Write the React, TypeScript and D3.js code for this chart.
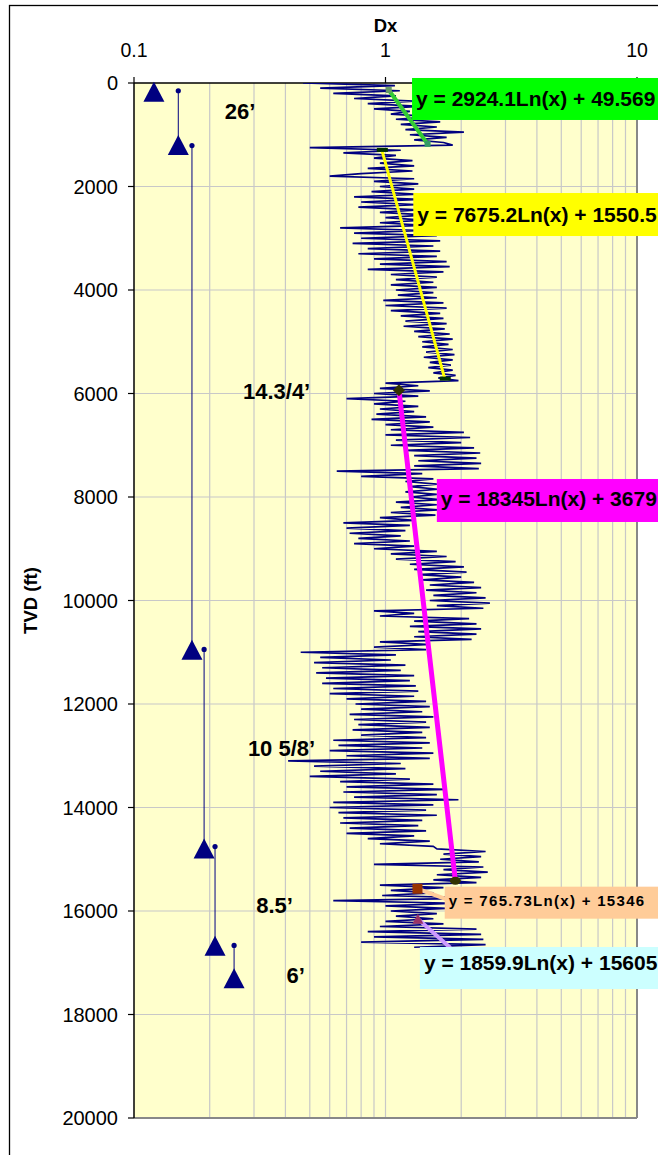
import * as d3 from "d3";

// Dx log, one reading every 50 ft starting at 0 ft
const logStepFt = 50;
const dxLog = [
  0.47, 1.09, 0.55, 1.14, 0.62, 1.1, // 0
  0.75, 1.3, 0.85, 1.37, 0.9, 1.25, // 300
  1.05, 1.55, 1.1, 1.65, 1.15, 1.6, // 600
  1.2, 2.05, 1.25, 1.75, 1.3, 1.7, // 900
  1.85, 0.5, 1.15, 0.68, 1.1, 0.9, // 1200
  1.28, 0.95, 1.3, 0.85, 1.28, 0.8, // 1500
  0.6, 1.3, 0.9, 1.35, 0.95, 1.3, // 1800
  0.88, 1.35, 0.75, 1.37, 0.8, 1.32, // 2100
  0.78, 1.35, 0.95, 1.45, 1.0, 1.42, // 2400
  0.95, 1.45, 0.66, 1.4, 0.75, 1.6, // 2700
  0.8, 1.65, 0.74, 1.55, 0.85, 1.65, // 3000
  0.78, 1.6, 0.9, 1.75, 0.95, 1.8, // 3300
  0.85, 1.7, 1.05, 1.6, 1.1, 1.55, // 3600
  1.05, 1.6, 1.1, 1.55, 1.12, 1.6, // 3900
  0.98, 1.7, 1.0, 1.75, 1.05, 1.65, // 4200
  1.15, 1.7, 1.2, 1.75, 1.18, 1.72, // 4500
  1.3, 1.8, 1.35, 1.85, 1.4, 1.78, // 4800
  1.4, 1.85, 1.45, 1.88, 1.42, 1.85, // 5100
  1.5, 1.82, 1.48, 1.85, 1.55, 1.9, // 5400
  1.62, 1.95, 1.0, 1.35, 0.95, 1.5, // 5700
  0.9, 1.35, 0.7, 1.2, 0.9, 1.35, // 6000
  0.95, 1.3, 0.92, 1.45, 0.88, 1.5, // 6300
  1.0, 1.55, 1.05, 2.05, 1.0, 2.17, // 6600
  1.1, 2.0, 1.05, 2.25, 1.2, 2.38, // 6900
  1.3, 2.3, 1.35, 2.4, 1.3, 2.35, // 7200
  0.64, 1.4, 0.8, 1.55, 1.2, 1.6, // 7500
  1.25, 1.62, 1.2, 1.6, 1.25, 1.65, // 7800
  1.1, 1.6, 1.15, 1.62, 1.05, 1.58, // 8100
  0.95, 1.3, 0.68, 1.25, 0.7, 1.2, // 8400
  0.72, 1.15, 0.78, 1.25, 0.75, 1.3, // 8700
  0.9, 1.6, 1.05, 1.75, 1.1, 1.9, // 9000
  1.25, 2.05, 1.3, 2.1, 1.35, 2.0, // 9300
  1.4, 2.25, 1.5, 2.4, 1.45, 2.3, // 9600
  1.55, 2.5, 1.5, 2.6, 1.6, 2.45, // 9900
  0.9, 1.3, 0.95, 2.15, 1.3, 2.3, // 10200
  1.25, 2.4, 1.35, 2.3, 1.3, 2.2, // 10500
  0.95, 1.5, 0.9, 1.45, 0.46, 1.1, // 10800
  0.55, 1.05, 0.52, 1.2, 0.56, 1.15, // 11100
  0.53, 1.3, 0.58, 1.25, 0.56, 1.32, // 11400
  0.62, 1.35, 0.6, 1.3, 0.7, 1.45, // 11700
  0.76, 1.5, 0.8, 1.4, 0.72, 1.55, // 12000
  0.75, 1.45, 0.78, 1.5, 0.74, 1.4, // 12300
  0.8, 1.45, 0.62, 1.5, 0.65, 1.4, // 12600
  0.6, 1.55, 0.7, 1.5, 0.41, 1.15, // 12900
  0.52, 1.2, 0.55, 1.1, 0.5, 1.25, // 13200
  0.66, 1.55, 0.7, 1.75, 0.68, 1.6, // 13500
  0.75, 1.95, 0.62, 1.55, 0.6, 1.45, // 13800
  0.65, 1.6, 0.68, 1.4, 0.66, 1.35, // 14100
  0.72, 1.45, 0.7, 1.3, 0.85, 1.5, // 14400
  0.95, 1.55, 1.6, 2.5, 1.7, 2.4, // 14700
  1.65, 2.35, 0.9, 2.45, 1.7, 2.55, // 15000
  1.6, 2.4, 1.55, 2.3, 0.95, 1.7, // 15300
  1.05, 1.55, 0.97, 2.4, 0.62, 1.9, // 15600
  1.0, 1.75, 1.05, 1.6, 1.1, 1.55, // 15900
  1.0, 1.7, 0.95, 2.3, 0.85, 2.4, // 16200
  0.9, 2.45, 0.8, 2.5, 1.3, // 16500
];

const xTicks = [0.1, 1, 10];
const yTicks = [0, 2000, 4000, 6000, 8000, 10000, 12000, 14000, 16000, 18000, 20000];

// casing strings: dot at top, triangle at shoe
const casingDx = [0.12, 0.15, 0.17, 0.19, 0.21, 0.25];
const casingTop = [170, 150, 1210, 10945, 14755, 16665];
const casingShoe = [170, 1200, 10950, 14790, 16670, 17300];

const casingLabels = ["26\u2019", "14.3/4\u2019", "10 5/8\u2019", "8.5\u2019", "6\u2019"];
const casingLabelDx = [0.264, 0.369, 0.386, 0.362, 0.439];
const casingLabelDepth = [541, 5946, 12850, 15884, 17237];

// log trendlines depth = a*ln(Dx) + b
const trendA = [2924.1, 7675.2, 18345, 765.73, 1859.9];
const trendB = [49.569, 1550.5, 3679, 15346, 15605];
const trendDxFrom = [1.03, 0.967, 1.131, 1.34, 1.37];
const trendDxTo = [1.47, 1.72, 1.896, 1.72, 1.8];
const trendColor = ["#33cc33", "#ffff00", "#ff00ff", "#ffcc99", "#cc99ff"];
const trendWidth = [4, 3, 5, 4, 4];
const trendLabel = [
  "y = 2924.1Ln(x) + 49.569",
  "y = 7675.2Ln(x) + 1550.5",
  "y = 18345Ln(x) + 3679",
  "y = 765.73Ln(x) + 15346",
  "y = 1859.9Ln(x) + 15605",
];
const labelBg = ["#00ff00", "#ffff00", "#ff00ff", "#ffcc99", "#ccffff"];
const labelDx = [1.275, 1.29, 1.6, 1.72, 1.37];
const labelDepth = [-97, 2126, 7652, 15530, 16696];
const labelHeight = [42, 43, 43, 32, 42];
const labelBaseline = [28, 29, 27, 19, 23];

export default function App() {
  const width = 658;
  const height = 1155;
  const margin = { top: 83, right: 21, bottom: 37, left: 134 };
  const font = "'Liberation Sans', Arial, sans-serif";

  const xScale = d3
    .scaleLog()
    .domain([0.1, 10])
    .range([margin.left, width - margin.right]);
  const yScale = d3
    .scaleLinear()
    .domain([0, 20000])
    .range([margin.top, height - margin.bottom]);

  const x0 = margin.left;
  const x1 = width - margin.right;
  const y0 = margin.top;
  const y1 = height - margin.bottom;

  const logLine = d3
    .line<number>()
    .x((d) => xScale(d))
    .y((_, i) => yScale(i * logStepFt));

  const gridX = xScale.ticks().filter((t) => t > 0.1 && t < 10);

  const tri = (cx: number, cy: number, w: number, h: number) =>
    `M${cx},${cy - h / 2}L${cx + w / 2},${cy + h / 2}L${cx - w / 2},${cy + h / 2}Z`;

  const trendEnd = (i: number, dx: number) => trendA[i] * Math.log(dx) + trendB[i];

  return (
    <svg
      width={width}
      height={height}
      style={{ position: "absolute", left: 0, top: 0, fontFamily: font }}
    >
      <defs>
        <clipPath id="plot">
          <rect x={x0} y={y0} width={x1 - x0} height={y1 - y0} />
        </clipPath>
      </defs>
      <rect x={0} y={0} width={width} height={height} fill="#fff" />
      <rect x={9.5} y={5.5} width={720} height={1220} fill="#fff" stroke="#000" strokeWidth={1.3} />

      {/* plot area */}
      <rect x={x0} y={y0} width={x1 - x0} height={y1 - y0} fill="#ffffcc" />
      {gridX.map((t) => (
        <line key={t} x1={xScale(t)} x2={xScale(t)} y1={y0} y2={y1} stroke="#c8c8c8" strokeWidth={1.2} />
      ))}
      {yTicks.slice(1, -1).map((t) => (
        <line key={t} x1={x0} x2={x1} y1={yScale(t)} y2={yScale(t)} stroke="#c8c8c8" strokeWidth={1.2} />
      ))}
      <line x1={x1} x2={x1} y1={y0} y2={y1} stroke="#888" strokeWidth={2} />
      <line x1={x0} x2={x1} y1={y1} y2={y1} stroke="#888" strokeWidth={2} />

      {/* axes */}
      <line x1={x0} x2={x0} y1={y0} y2={y1} stroke="#000" strokeWidth={1.5} />
      <line x1={x0} x2={x1} y1={y0} y2={y0} stroke="#000" strokeWidth={1.5} />
      {yTicks.map((t) => (
        <g key={t}>
          <line x1={x0 - 6} x2={x0} y1={yScale(t)} y2={yScale(t)} stroke="#000" strokeWidth={1.2} />
          <text
            x={x0 - 16}
            y={yScale(t)}
            textAnchor="end"
            dominantBaseline="central"
            fontSize={20}
            fill="#000"
          >
            {t}
          </text>
        </g>
      ))}
      {xTicks.map((t) => (
        <g key={t}>
          <line x1={xScale(t)} x2={xScale(t)} y1={y0 - 6} y2={y0} stroke="#000" strokeWidth={1.2} />
          <text x={xScale(t)} y={y0 - 26} textAnchor="middle" fontSize={19.5} fill="#000">
            {t}
          </text>
        </g>
      ))}
      <text x={(x0 + x1) / 2} y={32} textAnchor="middle" fontSize={18.5} fontWeight="bold">
        Dx
      </text>
      <text
        transform={`translate(37,${(y0 + y1) / 2}) rotate(-90)`}
        textAnchor="middle"
        fontSize={18.5}
        fontWeight="bold"
      >
        TVD (ft)
      </text>

      {/* Dx log */}
      <g clipPath="url(#plot)">
        <path
          d={logLine(dxLog) ?? ""}
          fill="none"
          stroke="#000080"
          strokeWidth={1.7}
          strokeLinejoin="bevel"
        />
      </g>

      {/* trendlines */}
      {trendA.map((_, i) => (
        <line
          key={i}
          x1={xScale(trendDxFrom[i])}
          y1={yScale(trendEnd(i, trendDxFrom[i]))}
          x2={xScale(trendDxTo[i])}
          y2={yScale(trendEnd(i, trendDxTo[i]))}
          stroke={trendColor[i]}
          strokeWidth={trendWidth[i]}
          strokeLinecap="round"
        />
      ))}

      {/* trend series end markers */}
      <rect x={xScale(trendDxFrom[0]) - 3} y={yScale(trendEnd(0, trendDxFrom[0])) - 3} width={6} height={6} fill="#669966" />
      <rect x={xScale(trendDxTo[0]) - 3} y={yScale(trendEnd(0, trendDxTo[0])) - 3} width={6} height={6} fill="#339966" />
      <rect x={xScale(trendDxFrom[1]) - 5} y={yScale(trendEnd(1, trendDxFrom[1])) - 2} width={11} height={4} fill="#003300" />
      <rect x={xScale(trendDxTo[1]) - 5} y={yScale(trendEnd(1, trendDxTo[1])) - 2} width={11} height={4} fill="#003300" />
      <path
        d={`M${xScale(trendDxFrom[2])},${yScale(trendEnd(2, trendDxFrom[2])) - 6}l6,6l-6,6l-6,-6Z`}
        fill="#333300"
      />
      <ellipse
        cx={xScale(trendDxTo[2])}
        cy={yScale(trendEnd(2, trendDxTo[2]))}
        rx={5.5}
        ry={4}
        fill="#333300"
      />
      <rect x={xScale(trendDxFrom[3]) - 5} y={yScale(trendEnd(3, trendDxFrom[3])) - 5} width={10} height={10} fill="#993300" />
      <path
        d={tri(xScale(trendDxFrom[4]) - 2, yScale(trendEnd(4, trendDxFrom[4])) - 2, 11, 10)}
        fill="#993366"
      />

      {/* casing */}
      {casingDx.map((c, i) => (
        <g key={i}>
          <line
            x1={xScale(c)}
            x2={xScale(c)}
            y1={yScale(casingTop[i])}
            y2={yScale(casingShoe[i])}
            stroke="#000080"
            strokeWidth={1}
          />
          <circle cx={xScale(c)} cy={yScale(casingTop[i])} r={2.6} fill="#000080" />
          <path d={tri(xScale(c), yScale(casingShoe[i]), 21, 20)} fill="#000080" />
        </g>
      ))}
      {casingLabels.map((t, i) => (
        <text
          key={t}
          x={xScale(casingLabelDx[i])}
          y={yScale(casingLabelDepth[i]) + 8}
          textAnchor="middle"
          fontSize={22}
          fontWeight="bold"
          fill="#000"
        >
          {t}
        </text>
      ))}

      {/* equation labels, drawn last so they cover axis and border */}
      {trendLabel.map((t, i) => {
        const lx = xScale(labelDx[i]);
        const ly = yScale(labelDepth[i]);
        const small = i === 3;
        return (
          <g key={t}>
            <rect x={lx} y={ly} width={width - lx + 10} height={labelHeight[i]} fill={labelBg[i]} />
            <text
              x={lx + 4}
              y={ly + labelBaseline[i]}
              fontSize={small ? 15 : 21}
              fontWeight="bold"
              letterSpacing={small ? 1.3 : 0}
              fill="#000"
            >
              {t}
            </text>
          </g>
        );
      })}
    </svg>
  );
}
